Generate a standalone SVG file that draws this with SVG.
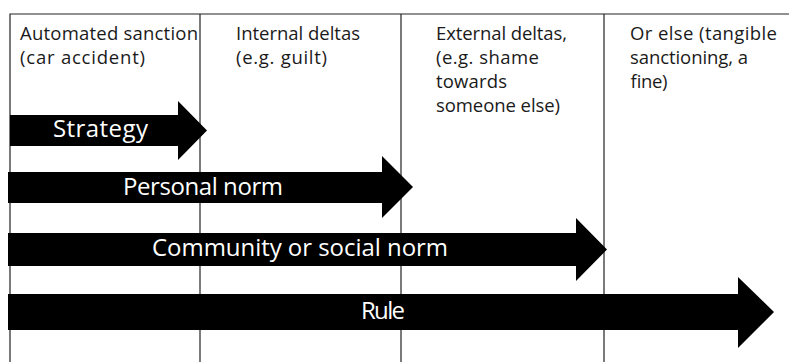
<svg xmlns="http://www.w3.org/2000/svg" width="789" height="362" viewBox="0 0 789 362">
  <style>
    .grid { stroke: #222; stroke-width: 1.2; fill: none; }
    .head { font-family: "Open Sans", "Liberation Sans", sans-serif; font-size: 18.5px; fill: #1a1a1a; }
    .arrow { fill: #000; }
    .label { font-family: "Open Sans", "Liberation Sans", sans-serif; font-size: 24px; fill: #fff; }
  </style>

  <rect width="789" height="362" fill="#fff"/>

  <!-- table frame and column separators -->
  <g id="grid">
    <path class="grid" d="M10,362 V14 H789"/>
    <line class="grid" x1="200" y1="14" x2="200" y2="362"/>
    <line class="grid" x1="401" y1="14" x2="401" y2="362"/>
    <line class="grid" x1="604" y1="14" x2="604" y2="362"/>
  </g>

  <!-- column headings -->
  <g id="col-automated">
    <text class="head" x="20" y="40" textLength="178">Automated sanction</text>
    <text class="head" x="20" y="64" textLength="125">(car accident)</text>
  </g>
  <g id="col-internal">
    <text class="head" x="236" y="40" textLength="124">Internal deltas</text>
    <text class="head" x="236" y="64" textLength="91">(e.g. guilt)</text>
  </g>
  <g id="col-external">
    <text class="head" x="436" y="40" textLength="131">External deltas,</text>
    <text class="head" x="436" y="64" textLength="103">(e.g. shame</text>
    <text class="head" x="436" y="88" textLength="71">towards</text>
    <text class="head" x="436" y="112" textLength="124">someone else)</text>
  </g>
  <g id="col-orelse">
    <text class="head" x="630" y="40" textLength="147">Or else (tangible</text>
    <text class="head" x="630" y="64" textLength="118">sanctioning, a</text>
    <text class="head" x="630" y="88" textLength="37">fine)</text>
  </g>

  <!-- block arrows -->
  <g id="connectors">
    <g id="arrow-strategy">
      <polygon class="arrow" points="10,115 178,115 178,101 207,130.5 178,160 178,146 10,146"/>
      <text class="label" x="53" y="137" textLength="95">Strategy</text>
    </g>
    <g id="arrow-personal">
      <polygon class="arrow" points="8,172 382,172 382,156 413,187 382,218 382,203 8,203"/>
      <text class="label" x="123" y="195" textLength="160">Personal norm</text>
    </g>
    <g id="arrow-community">
      <polygon class="arrow" points="8,233 576,233 576,218 607,249.5 576,281 576,266 8,266"/>
      <text class="label" x="152" y="256" textLength="296">Community or social norm</text>
    </g>
    <g id="arrow-rule">
      <polygon class="arrow" points="8,294 738,294 738,277 774,312 738,348 738,330 8,330"/>
      <text class="label" x="361" y="319" textLength="44">Rule</text>
    </g>
  </g>
</svg>
